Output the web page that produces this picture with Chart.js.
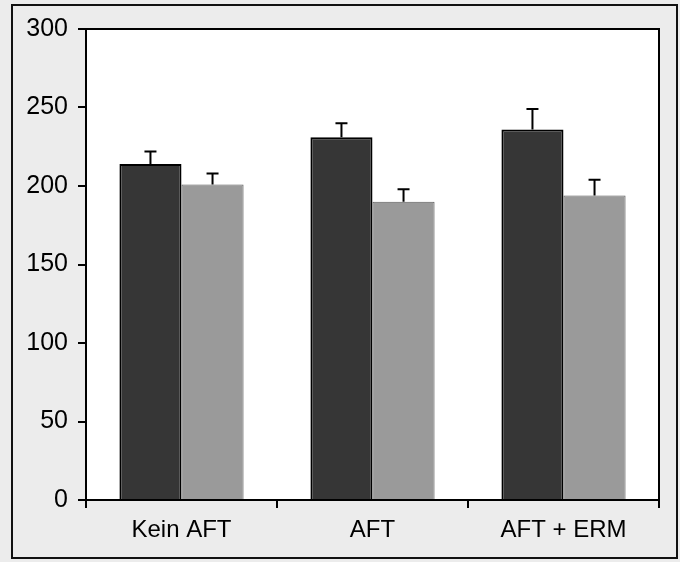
<!DOCTYPE html>
<html>
<head>
<meta charset="utf-8">
<script src="https://cdn.jsdelivr.net/npm/chart.js@4/dist/chart.umd.min.js"></script>
<style>
  html, body { margin: 0; padding: 0; background: #fff; }
  #wrap { width: 680px; height: 562px; }
</style>
</head>
<body>
<div id="wrap"><canvas id="chart" width="680" height="562"></canvas></div>
<script>
const categories = ['Kein AFT', 'AFT', 'AFT + ERM'];
const darkValues = [214, 231, 236];
const darkErrors = [8, 9, 13];
const grayValues = [201, 190, 194];
const grayErrors = [7, 8, 10];
const yTicks = [0, 50, 100, 150, 200, 250, 300];

const FONT = '"Liberation Sans", Arial, sans-serif';

// background, white plot area and outer frame
const framePlugin = {
  id: 'frame',
  beforeDraw(chart) {
    const { ctx, chartArea } = chart;
    ctx.save();
    ctx.fillStyle = '#ececec';
    ctx.fillRect(0, 0, chart.width, chart.height);
    ctx.fillStyle = '#fff';
    ctx.fillRect(chartArea.left, chartArea.top, chartArea.right - chartArea.left, chartArea.bottom - chartArea.top);
    ctx.strokeStyle = '#111';
    ctx.lineWidth = 2;
    ctx.strokeRect(12, 5, 665, 553);
    ctx.restore();
  },
  afterDraw(chart) {
    const { ctx, chartArea } = chart;
    ctx.save();
    ctx.strokeStyle = '#000';
    ctx.lineWidth = 2;
    ctx.beginPath();
    ctx.moveTo(chartArea.left, chartArea.top);
    ctx.lineTo(chartArea.right, chartArea.top);
    ctx.lineTo(chartArea.right, chartArea.bottom + 8);
    ctx.stroke();
    ctx.restore();
  }
};

// upper error bars
const errorBarPlugin = {
  id: 'errorBars',
  afterDatasetsDraw(chart) {
    const { ctx } = chart;
    const yScale = chart.scales.y;
    const errs = [darkErrors, grayErrors];
    ctx.save();
    ctx.strokeStyle = '#000';
    ctx.lineWidth = 2;
    chart.data.datasets.forEach((ds, i) => {
      chart.getDatasetMeta(i).data.forEach((bar, j) => {
        const top = yScale.getPixelForValue(ds.data[j] + errs[i][j]);
        ctx.beginPath();
        ctx.moveTo(bar.x, bar.y);
        ctx.lineTo(bar.x, top);
        ctx.moveTo(bar.x - 6, top);
        ctx.lineTo(bar.x + 6, top);
        ctx.stroke();
      });
    });
    ctx.restore();
  }
};

new Chart(document.getElementById('chart'), {
  type: 'bar',
  data: {
    labels: categories,
    datasets: [
      {
        data: darkValues,
        backgroundColor: '#363636',
        borderColor: '#000',
        borderWidth: 2,
        borderSkipped: 'bottom',
        categoryPercentage: 0.65,
        barPercentage: 1.0
      },
      {
        data: grayValues,
        backgroundColor: '#9a9a9a',
        borderColor: '#5a5a5a',
        borderWidth: 1,
        borderSkipped: 'bottom',
        categoryPercentage: 0.65,
        barPercentage: 1.0
      }
    ]
  },
  options: {
    responsive: false,
    animation: false,
    layout: { padding: { top: 29, right: 21, bottom: 0, left: 0 } },
    plugins: {
      legend: { display: false },
      tooltip: { enabled: false }
    },
    scales: {
      y: {
        min: 0,
        max: 300,
        afterFit(scale) { scale.width = 86; },
        afterBuildTicks(scale) { scale.ticks = yTicks.map(v => ({ value: v })); },
        border: { display: true, color: '#000', width: 2 },
        grid: { drawOnChartArea: false, drawTicks: true, tickLength: 8, color: '#000', lineWidth: 2 },
        ticks: {
          color: '#000',
          padding: 10,
          font: { family: FONT, size: 25 }
        }
      },
      x: {
        afterFit(scale) { scale.height = 62; },
        border: { display: true, color: '#000', width: 2 },
        grid: { drawOnChartArea: false, drawTicks: true, tickLength: 8, color: '#000', lineWidth: 2 },
        ticks: {
          color: '#000',
          padding: 8,
          font: { family: FONT, size: 24 }
        }
      }
    }
  },
  plugins: [framePlugin, errorBarPlugin]
});
</script>
</body>
</html>
